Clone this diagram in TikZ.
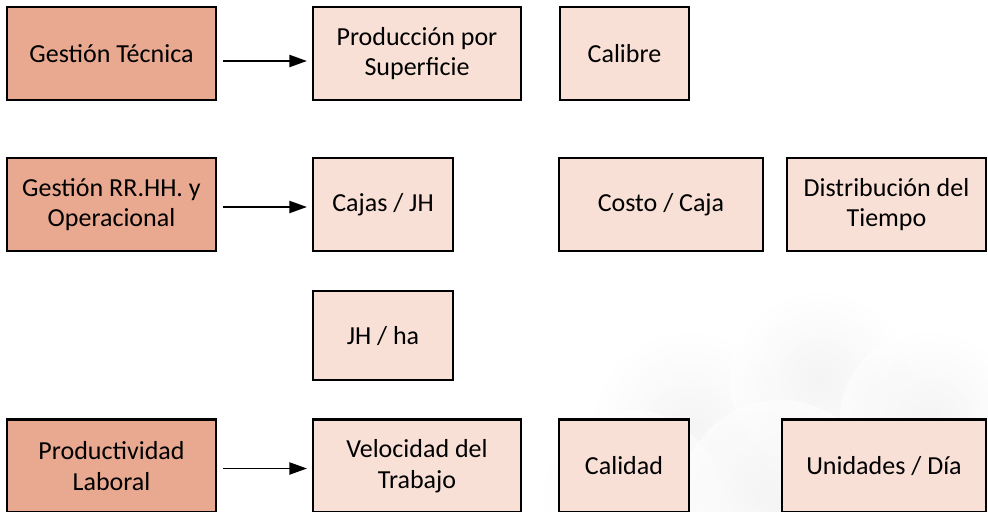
\documentclass[tikz,border=0pt]{standalone}
\usepackage{fontspec}
\setmainfont{Carlito}
\usepackage{xcolor}
\usetikzlibrary{positioning, arrows.meta}
\definecolor{headfill}{HTML}{E9A890}
\definecolor{itemfill}{HTML}{F8E0D6}
\tikzset{
  box/.style={draw, line width=1.3pt, align=center, font=\fontsize{14.8}{17.5}\selectfont, inner sep=2pt, minimum height=1.86cm},
  head/.style={box, fill=headfill, minimum width=4.18cm},
  item/.style={box, fill=itemfill},
  flow/.style={-{Triangle[length=10pt, width=7pt]}, line width=0.8pt, shorten <=0.12cm, shorten >=0.1cm},
  haze/.style={inner color=gray!16, outer color=white},
}

\begin{document}
\begin{tikzpicture}[x=0.02cm, y=-0.02cm]
  \useasboundingbox (0,0) rectangle (988,511);
  % faint background picture
  \begin{scope}[opacity=0.55]
    \shade[haze] (690,430) circle (100);
    \shade[haze] (820,380) circle (90);
    \shade[haze] (930,420) circle (90);
    \shade[haze] (630,500) circle (90);
    \shade[haze] (780,500) circle (100);
    \shade[haze] (920,505) circle (85);
  \end{scope}
  % row 1
  \node[head] (tec) at (111.5,53.5) {Gestión Técnica};
  \node[item, minimum width=4.16cm] (sup) at (417,53.5) {Producción por\\Superficie};
  \node[item, minimum width=2.58cm] (cal) at (624.5,53.5) {Calibre};
  % row 2
  \node[head] (rrhh) at (111.5,204.5) {Gestión RR.HH. y\\Operacional};
  \node[item, minimum width=2.8cm] (cjh) at (383,204.5) {Cajas / JH};
  \node[item, minimum width=4.08cm] (cst) at (661,204.5) {Costo / Caja};
  \node[item, minimum width=3.98cm] (dist) at (886.5,204.5) {Distribución del\\Tiempo};
  % row 3
  \node[item, minimum width=2.8cm, minimum height=1.78cm, below=0.76cm of cjh] (jhha) {JH / ha};
  % row 4
  \node[head] (prodl) at (111.5,466) {Productividad\\Laboral};
  \node[item, minimum width=4.16cm] (vel) at (417,466) {Velocidad del\\Trabajo};
  \node[item, minimum width=2.6cm] (cld) at (624,466) {Calidad};
  \node[item, minimum width=4.08cm] (und) at (884,466) {Unidades / Día};
  \foreach \a/\b/\s in {tec/sup/-0.15cm, rrhh/cjh/-0.05cm, prodl/vel/-0.05cm}
    \draw[flow] ([yshift=\s]\a.east) -- ([yshift=\s]\b.west);
\end{tikzpicture}
\end{document}
